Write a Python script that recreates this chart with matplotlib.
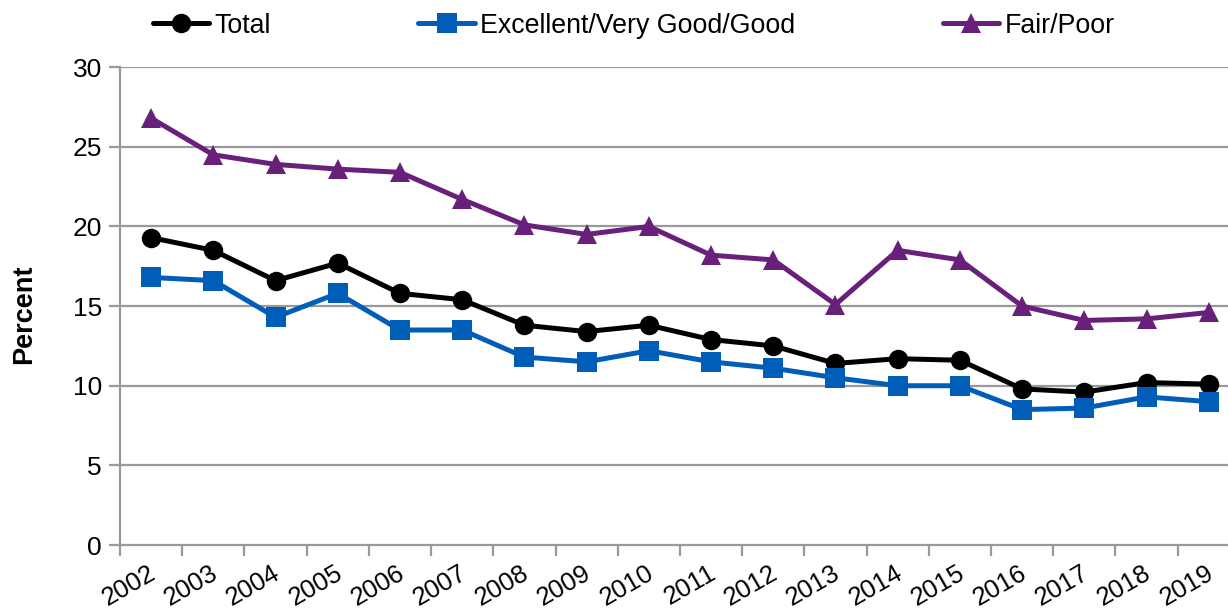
import matplotlib
matplotlib.use("Agg")
import matplotlib.pyplot as plt
from matplotlib.lines import Line2D

plt.rcParams['font.family'] = ['Liberation Sans', 'DejaVu Sans']

years = ['2002', '2003', '2004', '2005', '2006', '2007', '2008', '2009', '2010',
         '2011', '2012', '2013', '2014', '2015', '2016', '2017', '2018', '2019']
total = [19.3, 18.5, 16.6, 17.7, 15.8, 15.4, 13.8, 13.4, 13.8,
         12.9, 12.5, 11.4, 11.7, 11.6, 9.8, 9.6, 10.2, 10.1]
excellent_good = [16.8, 16.6, 14.3, 15.8, 13.5, 13.5, 11.8, 11.5, 12.2,
                  11.5, 11.1, 10.5, 10.0, 10.0, 8.5, 8.6, 9.3, 9.0]
fair_poor = [26.8, 24.5, 23.9, 23.6, 23.4, 21.7, 20.1, 19.5, 20.0,
             18.2, 17.9, 15.1, 18.5, 17.9, 15.0, 14.1, 14.2, 14.6]
y_ticks = [0, 5, 10, 15, 20, 25, 30]

fig = plt.figure(figsize=(12.28, 6.11), dpi=100)
ax = fig.add_axes([0.0977, 0.108, 0.912, 0.782])

x = list(range(len(years)))
series = [
    ('Total', total, '#000000', 'o', 14),
    ('Excellent/Very Good/Good', excellent_good, '#005EB8', 's', 14),
    ('Fair/Poor', fair_poor, '#68207A', '^', 15),
]
for label, vals, color, marker, ms in series:
    ax.plot(x, vals, color=color, lw=3.6, marker=marker, ms=ms,
            markeredgewidth=0, solid_joinstyle='miter', clip_on=False, zorder=3)

grid_color = '#999999'
ax.set_xlim(-0.5, len(years) - 0.5)
ax.set_ylim(0, 30)
ax.set_yticks(y_ticks)
ax.set_yticklabels([str(v) for v in y_ticks], fontsize=19)
for v in y_ticks[1:]:
    ax.axhline(v, color=grid_color, lw=1.6, zorder=1)

# category boundaries as x ticks
ax.set_xticks([i - 0.5 for i in range(len(years) + 1)])
ax.set_xticklabels([])
ax.tick_params(axis='x', length=8, width=1.6, color=grid_color, direction='out')
ax.tick_params(axis='y', length=8, width=1.6, color=grid_color, direction='out', pad=5)
for i, yr in enumerate(years):
    ax.annotate(yr, xy=(i, 0), xycoords='data', xytext=(2, -19),
                textcoords='offset points', rotation=30, rotation_mode='anchor',
                ha='right', va='center', fontsize=18.5, annotation_clip=False)

for side in ['top', 'right']:
    ax.spines[side].set_visible(False)
for side in ['left', 'bottom']:
    ax.spines[side].set_color(grid_color)
    ax.spines[side].set_linewidth(1.6)

ax.set_ylabel('Percent', fontsize=19.5, fontweight='bold')
ax.yaxis.label.set_verticalalignment('center')
ax.yaxis.set_label_coords(-0.0857, 0.483)

handles = [Line2D([], [], color=c, lw=3.6, marker=m, ms=ms, markeredgewidth=0,
                  solid_capstyle='round')
           for _, _, c, m, ms in series]
fig.legend(handles, [s[0] for s in series], loc='center left', ncol=3,
           bbox_to_anchor=(0.1246, 0.958), frameon=False, fontsize=19.3,
           handlelength=2.1, handletextpad=0.2, columnspacing=5.5,
           borderaxespad=0, borderpad=0)

fig.savefig('out.png', dpi=100)
